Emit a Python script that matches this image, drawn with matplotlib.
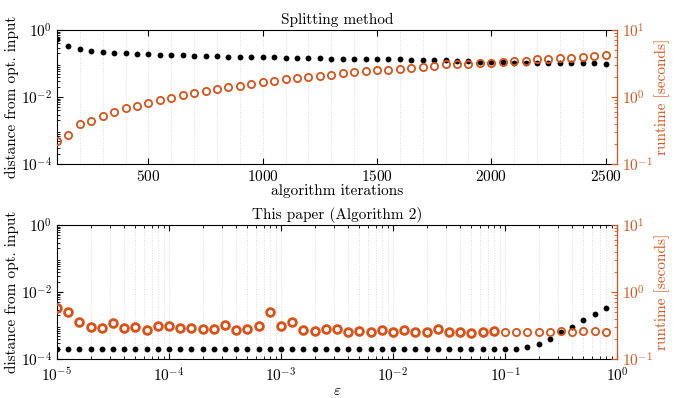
import numpy as np
import matplotlib
matplotlib.use("Agg")
import matplotlib.pyplot as plt
from matplotlib.ticker import LogLocator, MultipleLocator, NullFormatter, FixedLocator

plt.rcParams['font.family'] = ['cmr10', 'DejaVu Serif']
plt.rcParams['mathtext.fontset'] = 'cm'
plt.rcParams['axes.unicode_minus'] = False
plt.rcParams['axes.formatter.use_mathtext'] = True

ORANGE = '#D95319'

# ---------------- data ----------------
iterations = [100, 150, 200, 250, 300, 350, 400, 450, 500, 550, 600, 650, 700, 750,
              800, 850, 900, 950, 1000, 1050, 1100, 1150, 1200, 1250, 1300, 1350,
              1400, 1450, 1500, 1550, 1600, 1650, 1700, 1750, 1800, 1850, 1900,
              1950, 2000, 2050, 2100, 2150, 2200, 2250, 2300, 2350, 2400, 2450, 2500]
split_distance = [0.53, 0.34, 0.27, 0.236, 0.216, 0.21, 0.20, 0.192, 0.188, 0.184,
                  0.177, 0.175, 0.168, 0.166, 0.163, 0.161, 0.159, 0.157, 0.156,
                  0.153, 0.150, 0.147, 0.145, 0.142, 0.139, 0.138, 0.137, 0.136,
                  0.135, 0.134, 0.133, 0.131, 0.129, 0.127, 0.124, 0.120, 0.116,
                  0.113, 0.111, 0.109, 0.107, 0.105, 0.104, 0.103, 0.102, 0.102,
                  0.101, 0.101, 0.100]
split_runtime = [0.223, 0.274, 0.39, 0.434, 0.52, 0.60, 0.685, 0.74, 0.82, 0.90,
                 0.98, 1.06, 1.13, 1.23, 1.30, 1.40, 1.47, 1.56, 1.65, 1.73, 1.86,
                 1.90, 1.99, 2.06, 2.15, 2.26, 2.36, 2.42, 2.50, 2.56, 2.65, 2.71,
                 2.81, 2.90, 3.08, 3.08, 3.14, 3.22, 3.25, 3.33, 3.45, 3.50, 3.65,
                 3.73, 3.82, 3.87, 3.96, 4.05, 4.19]

eps_exponent = [-5.0, -4.9, -4.8, -4.7, -4.6, -4.5, -4.4, -4.3, -4.2, -4.1,
                -4.0, -3.9, -3.8, -3.7, -3.6, -3.5, -3.4, -3.3, -3.2, -3.1,
                -3.0, -2.9, -2.8, -2.7, -2.6, -2.5, -2.4, -2.3, -2.2, -2.1,
                -2.0, -1.9, -1.8, -1.7, -1.6, -1.5, -1.4, -1.3, -1.2, -1.1,
                -1.0, -0.9, -0.8, -0.7, -0.6, -0.5, -0.4, -0.3, -0.2, -0.1]
alg_distance = [1.95e-4] * 41 + [2.0e-4, 2.23e-4, 2.8e-4, 3.96e-4, 6.6e-4,
                                 9.2e-4, 1.42e-3, 2.2e-3, 3.3e-3]
alg_runtime = [0.583, 0.508, 0.36, 0.297, 0.287, 0.341, 0.29, 0.297, 0.274, 0.314,
               0.307, 0.287, 0.287, 0.278, 0.28, 0.325, 0.274, 0.278, 0.307, 0.497,
               0.307, 0.352, 0.274, 0.262, 0.278, 0.278, 0.255, 0.262, 0.255, 0.27,
               0.255, 0.274, 0.255, 0.255, 0.285, 0.25, 0.255, 0.248, 0.255, 0.258,
               0.255, 0.255, 0.255, 0.255, 0.255, 0.262, 0.255, 0.258, 0.265, 0.255]

eps = 10.0 ** np.array(eps_exponent)

# ---------------- figure ----------------
fig = plt.figure(figsize=(6.76, 3.98), dpi=100)
L, R = 57 / 676, 617 / 676
ax1 = fig.add_axes([L, 1 - 164 / 398, R - L, 134 / 398])
ax2 = fig.add_axes([L, 1 - 359 / 398, R - L, 134 / 398])

FS = 11
GRIDC = '#dcdcdc'

def style_left(ax):
    ax.set_yscale('log')
    ax.set_ylim(1e-4, 1e0)
    ax.yaxis.set_major_locator(FixedLocator([1e-4, 1e-2, 1e0]))
    ax.yaxis.set_minor_locator(LogLocator(base=10, subs=np.arange(2, 10)))
    ax.yaxis.set_minor_formatter(NullFormatter())
    ax.tick_params(axis='both', which='both', direction='in', labelsize=FS,
                   top=True, right=False)
    ax.tick_params(which='major', length=4)
    ax.tick_params(which='minor', length=2)
    ax.set_ylabel('distance from opt. input', fontsize=FS, labelpad=1)

def style_right(ax):
    ax.set_yscale('log')
    ax.set_ylim(1e-1, 1e1)
    ax.yaxis.set_minor_locator(LogLocator(base=10, subs=np.arange(2, 10)))
    ax.yaxis.set_minor_formatter(NullFormatter())
    ax.tick_params(axis='y', which='both', direction='in', colors=ORANGE,
                   labelsize=FS)
    ax.tick_params(which='major', length=4)
    ax.tick_params(which='minor', length=2)
    for s in ['left', 'top', 'bottom']:
        ax.spines[s].set_visible(False)
    ax.spines['right'].set_color(ORANGE)
    ax.set_ylabel('runtime [seconds]', color=ORANGE, fontsize=FS, labelpad=1)

# ---- top panel ----
ax1.set_xlim(100, 2550)
ax1.xaxis.set_major_locator(MultipleLocator(500))
ax1.xaxis.set_minor_locator(MultipleLocator(100))
style_left(ax1)
ax1.tick_params(axis='x', which='minor', length=0)
ax1.grid(True, axis='x', which='both', linestyle=':', color=GRIDC, linewidth=0.7)
ax1.plot(iterations, split_distance, 'o', color='black', markersize=4.2,
         markeredgewidth=0, zorder=3)
ax1.set_xlabel('algorithm iterations', fontsize=FS, labelpad=0)
ax1.set_title('Splitting method', fontsize=FS, pad=4)
ax1r = ax1.twinx()
style_right(ax1r)
ax1r.plot(iterations, split_runtime, 'o', markerfacecolor='none',
          markeredgecolor=ORANGE, markersize=5.2, markeredgewidth=1.3)

# ---- bottom panel ----
ax2.set_xscale('log')
ax2.set_xlim(1e-5, 1e0)
ax2.xaxis.set_major_locator(LogLocator(base=10, numticks=10))
ax2.xaxis.set_minor_locator(LogLocator(base=10, subs=np.arange(2, 10), numticks=20))
ax2.xaxis.set_minor_formatter(NullFormatter())
style_left(ax2)
ax2.tick_params(axis='x', which='major', pad=5)
ax2.grid(True, axis='x', which='both', linestyle=':', color=GRIDC, linewidth=0.7)
ax2.plot(eps, alg_distance, 'o', color='black', markersize=4.2,
         markeredgewidth=0, zorder=3)
ax2.set_xlabel(r'$\varepsilon$', fontsize=FS, labelpad=0)
ax2.set_title('This paper (Algorithm 2)', fontsize=FS, pad=4)
ax2r = ax2.twinx()
style_right(ax2r)
ax2r.plot(eps[:40], alg_runtime[:40], 'o', markerfacecolor='none',
          markeredgecolor=ORANGE, markersize=5.6, markeredgewidth=2.0)
ax2r.plot(eps[40:], alg_runtime[40:], 'o', markerfacecolor='none',
          markeredgecolor=ORANGE, markersize=5.2, markeredgewidth=1.3)

fig.savefig('out.png', dpi=100)
